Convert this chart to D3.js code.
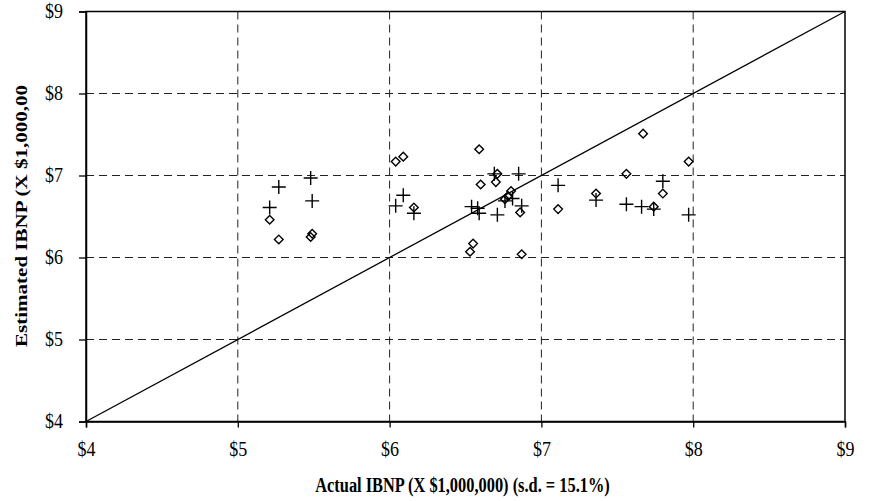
<!DOCTYPE html>
<html>
<head>
<meta charset="utf-8">
<script src="https://cdn.jsdelivr.net/npm/d3@7"></script>
<style>
  html, body { margin: 0; padding: 0; background: #fff; }
  svg { display: block; }
  text { font-family: "Liberation Serif", "Times New Roman", serif; fill: #000; }
</style>
</head>
<body>
<svg id="chart" width="872" height="501"></svg>
<script>
// Actual vs. estimated IBNP, in $ millions
const diamondActual = [5.21, 5.27, 5.48, 5.49, 6.04, 6.09, 6.16, 6.53, 6.55, 6.59, 6.60, 6.70, 6.71, 6.76, 6.78, 6.80, 6.86, 6.87, 7.11, 7.36, 7.56, 7.67, 7.74, 7.80, 7.97];
const diamondEstimated = [6.46, 6.22, 6.25, 6.29, 7.17, 7.23, 6.61, 6.07, 6.17, 7.32, 6.89, 6.92, 7.02, 6.71, 6.75, 6.81, 6.55, 6.04, 6.59, 6.78, 7.02, 7.51, 6.62, 6.78, 7.17];

const plusActual = [5.21, 5.27, 5.48, 5.49, 6.04, 6.09, 6.16, 6.54, 6.58, 6.59, 6.69, 6.71, 6.76, 6.81, 6.85, 6.87, 7.11, 7.36, 7.56, 7.66, 7.74, 7.80, 7.97];
const plusEstimated = [6.61, 6.86, 6.97, 6.69, 6.63, 6.76, 6.54, 6.62, 6.60, 6.54, 7.02, 6.52, 6.69, 6.72, 7.02, 6.63, 6.88, 6.70, 6.65, 6.62, 6.59, 6.93, 6.52];

const tickValues = [4, 5, 6, 7, 8, 9];
const tickLabels = ["$4", "$5", "$6", "$7", "$8", "$9"];
const xTitle = "Actual IBNP (X $1,000,000) (s.d. = 15.1%)";
const yTitle = "Estimated IBNP (X $1,000,00";

const svg = d3.select("#chart");
const plotLeft = 86, plotRight = 845, plotTop = 11.5, plotBottom = 421.5;
const titleSqueeze = 0.78;   // narrow, tall serif lettering
const tickSqueeze = 0.9;

const x = d3.scaleLinear().domain([4, 9]).range([plotLeft, plotRight]);
const y = d3.scaleLinear().domain([4, 9]).range([plotBottom, plotTop]);

// dashed grid
const grid = svg.append("g").attr("stroke", "#222").attr("stroke-width", 1)
  .attr("stroke-dasharray", "8,5");
grid.selectAll("line.gx").data(tickValues.slice(1, -1)).join("line")
  .attr("class", "gx")
  .attr("x1", d => x(d)).attr("x2", d => x(d))
  .attr("y1", plotTop).attr("y2", plotBottom);
grid.selectAll("line.gy").data(tickValues.slice(1, -1)).join("line")
  .attr("class", "gy")
  .attr("x1", plotLeft).attr("x2", plotRight)
  .attr("y1", d => y(d)).attr("y2", d => y(d));

// plot frame
svg.append("rect").attr("x", plotLeft).attr("y", plotTop)
  .attr("width", plotRight - plotLeft).attr("height", plotBottom - plotTop)
  .attr("fill", "none").attr("stroke", "#000").attr("stroke-width", 1.5);

// axes
const fmt = d => tickLabels[tickValues.indexOf(d)];
const xAxis = svg.append("g").attr("transform", `translate(0,${plotBottom})`)
  .call(d3.axisBottom(x).tickValues(tickValues).tickFormat(fmt).tickSize(6).tickPadding(14));
const yAxis = svg.append("g").attr("transform", `translate(${plotLeft},0)`)
  .call(d3.axisLeft(y).tickValues(tickValues).tickFormat(fmt).tickSize(7).tickPadding(12));
[xAxis, yAxis].forEach(a => {
  a.select(".domain").attr("stroke", "#000").attr("stroke-width", 1.5);
  a.selectAll(".tick line").attr("stroke", "#000").attr("stroke-width", 1.3);
  a.selectAll(".tick text").attr("font-family", "Liberation Serif, serif")
    .attr("font-size", 20).attr("fill", "#000")
    .attr("transform", `scale(${tickSqueeze},1)`);
});
// keep the left labels' offset from the axis after squeezing
yAxis.selectAll(".tick text").attr("x", -23 / tickSqueeze);

// y = x reference line
svg.append("line")
  .attr("x1", x(4)).attr("y1", y(4)).attr("x2", x(9)).attr("y2", y(9))
  .attr("stroke", "#000").attr("stroke-width", 1.3);

// diamonds
const diamonds = d3.zip(diamondActual, diamondEstimated);
svg.append("g").selectAll("path").data(diamonds).join("path")
  .attr("d", d3.symbol(d3.symbolDiamond2, 48))
  .attr("transform", d => `translate(${x(d[0])},${y(d[1])})`)
  .attr("fill", "none").attr("stroke", "#000").attr("stroke-width", 1.4);

// plus signs
const pluses = d3.zip(plusActual, plusEstimated);
const arm = 7;
svg.append("g").selectAll("path").data(pluses).join("path")
  .attr("d", d => `M${x(d[0]) - arm},${y(d[1])}H${x(d[0]) + arm}M${x(d[0])},${y(d[1]) - arm}V${y(d[1]) + arm}`)
  .attr("stroke", "#000").attr("stroke-width", 1.4).attr("fill", "none");

// axis titles
svg.append("text")
  .attr("transform", `translate(${(plotLeft + plotRight) / 2 - 3},492) scale(${titleSqueeze},1)`)
  .attr("text-anchor", "middle").attr("font-size", 21).attr("font-weight", "bold")
  .text(xTitle);
svg.append("text")
  .attr("transform", `translate(27,216) scale(${titleSqueeze},1) rotate(-90)`)
  .attr("text-anchor", "middle").attr("font-size", 21).attr("font-weight", "bold")
  .text(yTitle);
</script>
</body>
</html>
